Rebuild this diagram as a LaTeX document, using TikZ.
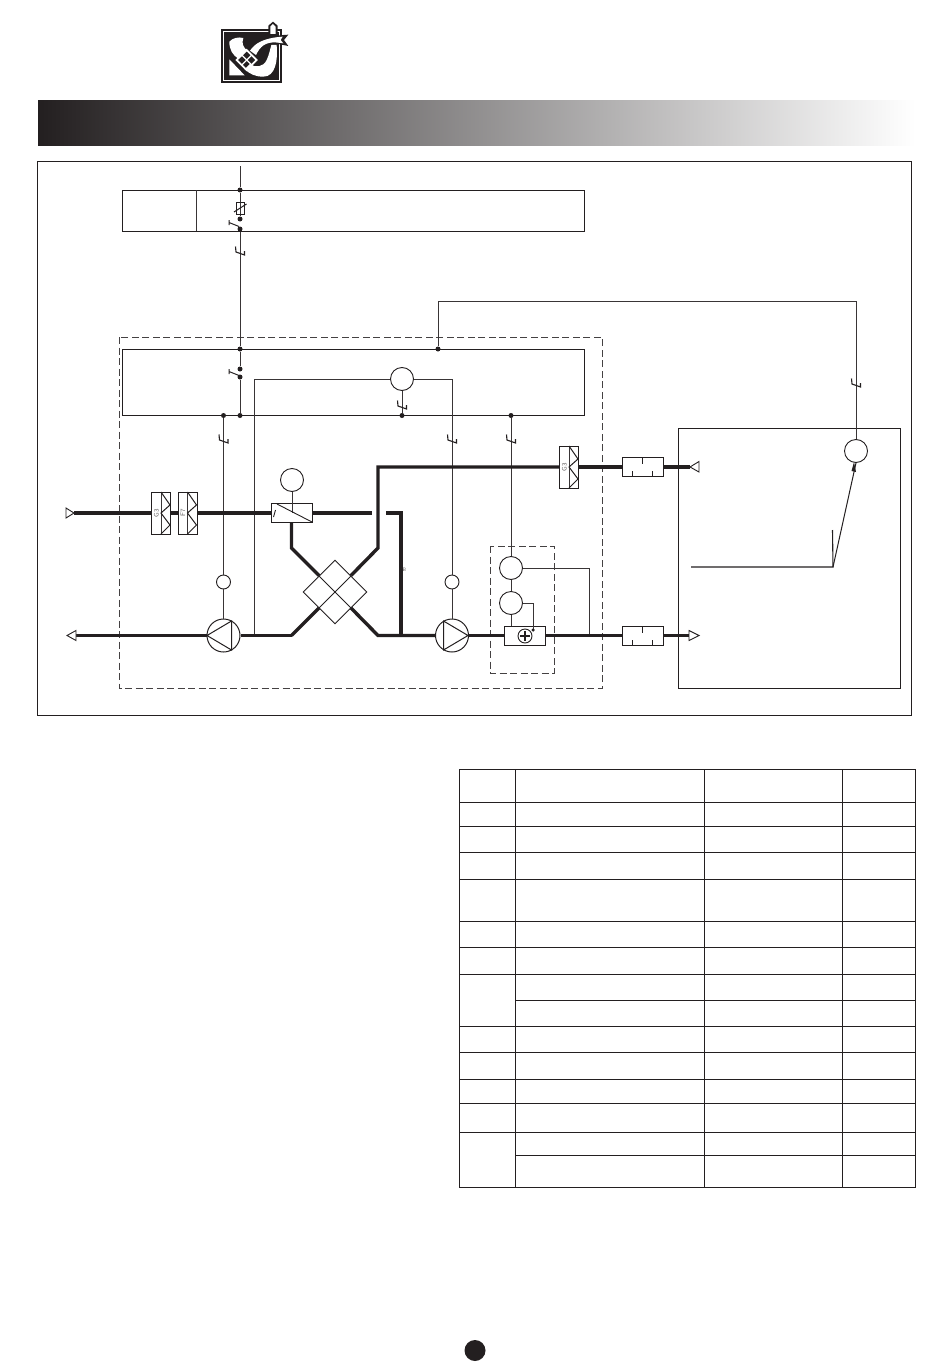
\documentclass[tikz,border=0pt]{standalone}
\usepackage{tikz}
\usetikzlibrary{calc}
\definecolor{ink}{HTML}{231F20}
\tikzset{
  thinw/.style={ink!90,line width=1pt},
  midw/.style={ink,line width=2.4pt},
  thickw/.style={ink,line width=3.4pt,line join=miter},
  dashbox/.style={ink!85,line width=0.9pt,dash pattern=on 7pt off 3.5pt},
  jdot/.style={circle,fill=ink,inner sep=0pt,minimum size=5pt},
  bigc/.style={circle,draw=ink,line width=0.9pt,fill=white,inner sep=0pt,minimum size=23pt},
  smallc/.style={circle,draw=ink,line width=0.9pt,fill=white,inner sep=0pt,minimum size=14pt},
  pumpc/.style={circle,draw=ink,line width=1pt,fill=white,inner sep=0pt,minimum size=33pt},
  plainbox/.style={rectangle,draw=ink,line width=0.9pt,fill=white,inner sep=0pt},
  airend/.style={draw=ink,line width=0.9pt,fill=white,line join=miter},
  pics/wmark/.style={code={
    \draw[ink,line width=1.1pt] (-4.5,-3.5) -- (-4,2) -- (4.5,5) -- (4.5,1);}},
  pics/filtr/.style={code={
    \node[plainbox,minimum width=19pt,minimum height=42pt] (-box) at (0,0) {};
    \draw[thinw] (0,-21) -- (0,21);
    \draw[ink,line width=1pt] (0,-21) -- (9,-8) -- (0,0) -- (9,12) -- (0,21);
    \node[rotate=90,inner sep=0pt,text=ink!75,font=\fontsize{6.5}{6.5}\selectfont\sffamily] at (-4.7,0) {#1};}},
  pics/silenc/.style={code={
    \node[plainbox,minimum width=41pt,minimum height=19pt] (-box) at (0,0) {};
    \draw[ink,line width=0.9pt] (0,-9.5) -- (0,-3) (-10.5,9.5) -- (-10.5,4) (10,9.5) -- (10,4);}},
  pics/swtch/.style={code={
    \draw[ink,line width=1pt] (-1,2.5) -- (-11,-1.5) (-11,-4) -- (-11,1);}}
}
\begin{document}
\begin{tikzpicture}[x=1pt,y=-1pt]
  \useasboundingbox (0,0) rectangle (950,1370);
  % logo
  \begin{scope}[shift={(200,10)},x=0.3333pt,y=-0.3333pt]
    \fill[ink] (63,57) rectangle (245,220);
    \draw[white,line width=1pt] (71,64) rectangle (238,212);
    \fill[ink] (205,78) -- (205,47) -- (219,35) -- (233,47) -- (233,78) -- cycle;
    \fill[white] (211,72) -- (211,50) -- (219,42) -- (227,50) -- (227,72) -- cycle;
    \fill[white] (88,95) .. controls (98,84) and (115,80) .. (130,84)
      .. controls (124,100) and (130,112) .. (142,122) -- (116,147)
      .. controls (98,135) and (88,120) .. (88,95) -- cycle;
    \fill[white] (88,148) -- (134,196) -- (88,196) -- cycle;
    \fill[ink] (150,122) .. controls (165,95) and (190,78) .. (265,74)
      -- (252,90) -- (265,108) -- (235,102) -- (200,108) -- (175,135) -- cycle;
    \fill[white] (150,122) .. controls (165,100) and (190,84) .. (248,80)
      -- (242,90) -- (250,100) -- (225,97) .. controls (195,97) and (180,110) .. (168,135) -- cycle;
    \fill[white] (214,105) -- (230,105) .. controls (234,150) and (227,200) .. (190,200)
      .. controls (165,200) and (150,192) .. (134,178) -- (150,162)
      .. controls (165,174) and (190,172) .. (200,150)
      .. controls (207,135) and (210,120) .. (214,105) -- cycle;
    \draw[white,line width=1.8pt] (110,150) -- (140,120) -- (170,150) -- (140,180) -- cycle;
    \draw[white,line width=1.2pt] (125,135) -- (155,165) (155,135) -- (125,165);
  \end{scope}
  % title bar
  \node[inner sep=0pt,minimum width=877pt,minimum height=44pt,left color=ink,right color=white] (bar) at (476.5,123) {};
  % outer frame
  \node[plainbox,fill=none,minimum width=873.5pt,minimum height=554pt] (frame) at (474.3,438) {};
  % boxes
  \node[plainbox,fill=none,minimum width=462pt,minimum height=41pt] (topbox) at (353,210.5) {};
  \draw[thinw] (196,190) -- (196,231);
  \node[plainbox,fill=none,minimum width=462pt,minimum height=66pt] (ctrlbox) at (353,382) {};
  \node[plainbox,fill=none,minimum width=222pt,minimum height=260pt] (roombox) at (789,558) {};
  \draw[dashbox] (119,337) rectangle (602,688);
  \draw[dashbox] (490,546) rectangle (554,673);
  % junctions
  \coordinate (feed) at (240,166);
  \node[jdot] (ja) at (240,190) {};
  \node[jdot] (jb) at (240,219) {};
  \node[jdot] (jc) at (240,229) {};
  \node[jdot] (jd) at (240,349) {};
  \node[jdot] (je) at (240,369) {};
  \node[jdot] (jf) at (240,377) {};
  \node[jdot] (jg) at (240,415.5) {};
  \node[jdot] (jh) at (223.5,415.5) {};
  \node[jdot] (ji) at (402,415.5) {};
  \node[jdot] (jj) at (511,415.5) {};
  \node[jdot] (jk) at (438,349) {};
  % wiring
  \draw[thinw] (feed) -- (ja) -- (jb);
  \draw[thinw] (jc) -- (jd) -- (je);
  \draw[thinw] (jf) -- (jg);
  \node[bigc] (rc) at (402,379) {};
  \node[bigc] (hc) at (856,451) {};
  \node[smallc] (fanb) at (223.5,582) {};
  \node[smallc] (fanc) at (452,582) {};
  \node[pumpc] (pa) at (223.5,635.5) {};
  \node[pumpc] (pb) at (452,635.5) {};
  \node[bigc] (hb) at (511,568) {};
  \node[bigc] (ha) at (511,603) {};
  \node[bigc] (dm) at (292,480) {};
  \node[plainbox,minimum width=41pt,minimum height=19pt] (heat) at (525,635.5) {};
  \node[smallc] (hp) at (525,636) {};
  \node[plainbox,minimum width=41pt,minimum height=19pt] (damp) at (291.5,513) {};
  \coordinate (cs) at (438,301);
  \coordinate (ce) at (856,301);
  \draw[thinw] (jk) -- (cs) -- (ce) -- (hc);
  \draw[thinw] (rc) -- (ji);
  \draw[thinw] (jh) -- (fanb);
  \draw[thinw] (fanb) -- (pa);
  \draw[thinw] (jj) -- (hb);
  \draw[thinw] (hb) -- (ha);
  \draw[thinw] (ha) -- (ha|-heat.north);
  \draw[thinw] (rc) -- (254.5,379) -- (254.5,635);
  \draw[thinw] (rc) -- (452,379) -- (fanc);
  \draw[thinw] (fanc) -- (pb);
  \draw[thinw] (hb) -- (589,568) -- (589,635);
  \draw[thinw] (ha) -- (533,603) -- (533,630);
  \draw[thinw] (dm) -- (292,513);
  \node[jdot,minimum size=3.5pt] (jl) at (533,630) {};
  \foreach \mx/\my in {240/250,223.5/438,402/404,452/438,511/438,856/382}
    \pic at (\mx,\my) {wmark};
  % sensor and switches
  \draw[ink,line width=0.9pt] (236,202.5) rectangle (244,214);
  \draw[ink,line width=1pt] (234,212) -- (246.5,204);
  \pic at (240,224) {swtch};
  \pic at (240,373) {swtch};
  % air paths
  \pic (fa) at (161,513) {filtr=G3};
  \pic (fb) at (187.5,513) {filtr=F7};
  \pic (fc) at (569,467) {filtr=G3};
  \pic (sa) at (642.5,467) {silenc};
  \pic (sb) at (642.5,635.5) {silenc};
  \coordinate (oa) at (74,513);
  \coordinate (ob) at (74,635.5);
  \coordinate (oc) at (690,467);
  \coordinate (od) at (689,635.5);
  \draw[thickw] (oa) -- (fa-box);
  \draw[thickw] (fa-box) -- (fb-box);
  \draw[thickw] (fb-box) -- (damp);
  \draw[thickw] (damp) -- (372,513);
  \draw[thickw] (386,513) -- (401,513) -- (401,635.5);
  \draw[thickw] (damp.south) -- (291.5,548) -- (319,575.5);
  \draw[thickw] (351,575.5) -- (378,548) -- (378,467) -- (fc-box);
  \draw[thickw] (fc-box) -- (sa-box);
  \draw[thickw] (sa-box) -- (oc);
  \draw[ink,line width=3pt] (ob) -- (pa);
  \draw[midw] (pa) -- (291.5,635.5);
  \draw[thickw] (291.5,635.5) -- (319,608);
  \draw[thickw] (351,608) -- (378,635.5) -- (pb);
  \draw[midw] (pb) -- (heat);
  \draw[thickw] (heat) -- (sb-box);
  \draw[thickw] (sb-box) -- (od);
  \draw[airend] (66,508) -- (oa) -- (66,518) -- cycle;
  \draw[airend] (76,630.5) -- (67,635.5) -- (76,640.5) -- cycle;
  \draw[airend] (oc) -- (699,461.5) -- (699,472) -- cycle;
  \draw[airend] (689,630.5) -- (699,635.5) -- (689,640.5) -- cycle;
  \node[inner sep=0pt,text=ink!70,font=\fontsize{5}{5}\selectfont\sffamily] (tagb) at (404.5,570) {B};
  % heat exchanger
  \node[draw=ink,line width=0.9pt,shape=rectangle,minimum size=45pt,rotate=45,inner sep=0pt] (hx) at (335,592) {};
  \draw[ink,line width=0.9pt] (319,576) -- (351,608) (351,576) -- (319,608);
  % pump and damper details
  \draw[ink,line width=1pt] (231.5,621) -- (207,635.5) -- (231.5,650) -- cycle;
  \draw[ink,line width=1pt] (443.5,621) -- (468,635.5) -- (443.5,650) -- cycle;
  \draw[ink,line width=0.9pt] (277,504) -- (312,522) (273.5,517) -- (275.5,510);
  \draw[ink,line width=1.6pt] (525,631) -- (525,641) (520,636) -- (530,636);
  % room sensor
  \coordinate (ra) at (691,567);
  \coordinate (rb) at (833,567);
  \coordinate (rd) at (832.5,530);
  \draw[ink,line width=1.1pt] (ra) -- (rb) -- (rd);
  \draw[ink,line width=1pt] (rb) -- (hc.south);
  \fill[ink] (854,462) -- (851.5,471) -- (856,472) -- cycle;
  % table
  \draw[ink,line width=1pt] (459.5,769.5) rectangle (915,1187.5);
  \draw[ink,line width=1pt] (515.5,769.5) -- (515.5,1187.5) (704.5,769.5) -- (704.5,1187.5) (842.5,769.5) -- (842.5,1187.5);
  \foreach \ry in {802.5,826.5,852.5,879.5,921.5,947.5,974.5,1026.5,1052.5,1079.5,1103.5,1132.5}
    \draw[ink,line width=1pt] (459.5,\ry) -- (915,\ry);
  \foreach \ry in {1000.5,1155.5}
    \draw[ink,line width=1pt] (515.5,\ry) -- (915,\ry);
  % page mark
  \node[circle,fill=ink,inner sep=0pt,minimum size=21pt] (pgdot) at (475,1350.5) {};
\end{tikzpicture}
\end{document}
